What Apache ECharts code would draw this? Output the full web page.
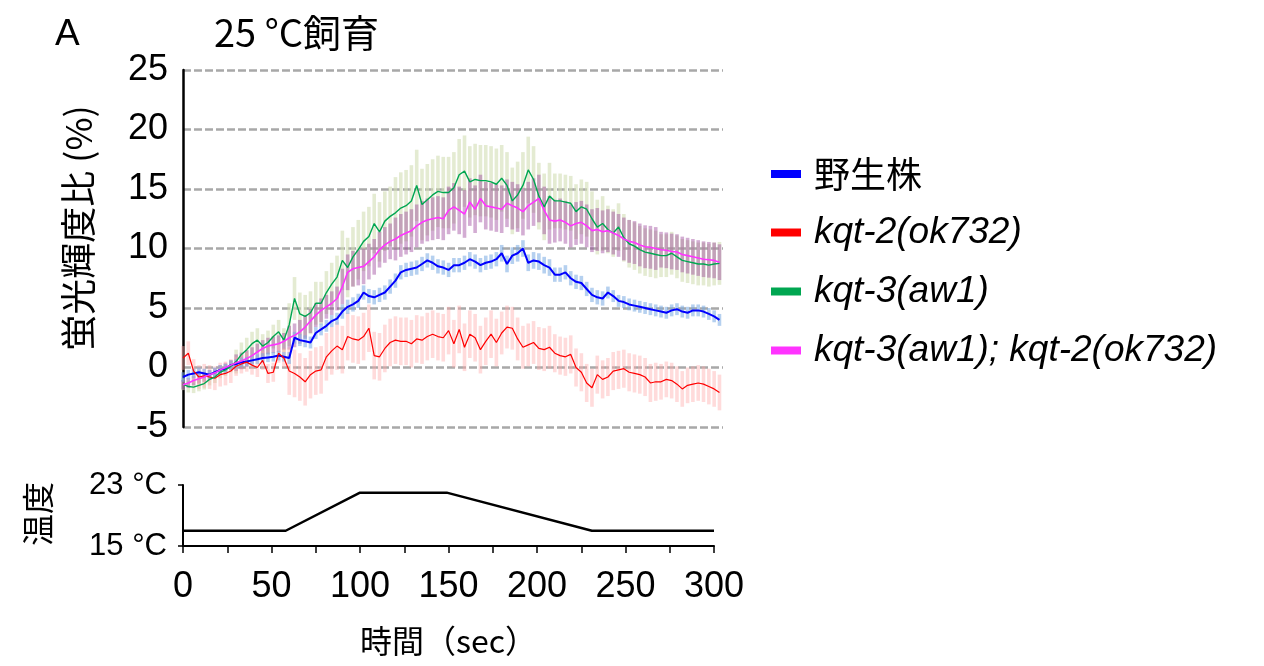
<!DOCTYPE html>
<html>
<head>
<meta charset="utf-8">
<script src="https://cdn.jsdelivr.net/npm/echarts@6/dist/echarts.min.js"></script>
<style>
  html, body { margin: 0; padding: 0; background: #fff; }
  #chart { width: 1264px; height: 666px; }
</style>
</head>
<body>
<div id="chart"></div>
<script>
const FONT = '"Liberation Sans", Arial, "Noto Sans CJK JP", sans-serif'
const CJK = '"Noto Sans CJK JP", "Liberation Sans", sans-serif'

// sampling every 3 s, 0 .. 303 s
const times = Array.from({ length: 102 }, (_, i) => i * 3)

const seriesNames = ['野生株', 'kqt-2(ok732)', 'kqt-3(aw1)', 'kqt-3(aw1); kqt-2(ok732)']

const wildType = [
  -0.8, -0.6, -0.5, -0.4, -0.5, -0.6, -0.4, -0.2, -0.1, 0.2,
  0.3, 0.45, 0.5, 0.6, 0.7, 0.8, 0.85, 0.9, 1.0, 0.9,
  0.8, 2.5, 2.3, 2.2, 2.1, 2.9, 3.2, 3.5, 3.9, 4.1,
  4.7, 5.1, 5.3, 5.6, 6.3, 6.0, 5.9, 6.1, 6.3, 6.8,
  7.3, 8.0, 8.2, 8.3, 8.4, 8.7, 9.0, 8.8, 8.5, 8.4,
  8.2, 8.6, 8.6, 8.8, 9.1, 8.9, 8.6, 8.8, 8.9, 9.1,
  9.6, 8.7, 9.4, 9.6, 10.0, 8.8, 9.0, 8.9, 8.6, 8.4,
  7.8, 7.8, 8.0, 7.5, 7.2, 7.1, 6.6, 6.1, 5.9, 5.8,
  6.3, 6.0, 5.6, 5.5, 5.3, 5.2, 5.1, 5.0, 4.9, 4.8,
  4.7, 4.6, 4.8, 4.9, 4.7, 4.6, 4.8, 4.8, 4.7, 4.5,
  4.3, 4.0
]
const kqt2 = [
  0.8, 1.2, -0.3, -0.8, -0.7, -0.8, -0.9, -0.6, -0.5, -0.3,
  0.1, 0.3, 0.45, 0.2, 0.0, 0.6, -0.5, -0.4, 1.2, 0.8,
  -0.3, -0.5, -0.8, -1.2, -0.6, -0.3, -0.2, 0.9, 1.4, 1.8,
  1.5, 2.6, 2.4, 2.3, 2.6, 3.3, 1.0, 0.9, 1.6, 2.1,
  2.3, 2.2, 2.2, 2.0, 2.4, 2.3, 2.6, 2.8, 2.6, 2.5,
  3.1, 2.0, 3.2, 1.7, 2.8, 2.5, 1.5, 2.2, 2.8, 2.1,
  2.9, 3.4, 3.3, 2.4, 1.7, 1.9, 2.1, 1.6, 1.5, 1.7,
  1.2, 1.0, 0.9, 1.1, 0.0, -0.4, -1.3, -1.7, -0.6, -1.0,
  -0.8, -0.3, -0.2, -0.1, -0.4, -0.5, -0.6, -0.8, -1.3, -1.2,
  -1.2, -1.0, -1.1, -1.4, -1.8, -1.5, -1.4, -1.3, -1.4, -1.6,
  -1.8, -2.1
]
const kqt3 = [
  -1.4, -1.6, -1.65, -1.5, -1.35, -1.0, -0.8, -0.4, -0.2, 0.1,
  0.5, 1.1, 1.5, 2.0, 2.3, 1.8, 2.1, 2.6, 3.0, 2.3,
  3.6, 5.8, 4.5, 4.3, 4.6, 5.4, 5.4, 6.3, 7.0, 7.6,
  9.0, 8.4, 9.3, 9.9, 10.6, 11.0, 12.1, 11.4, 12.3, 12.7,
  13.0, 13.4, 13.6, 14.0, 15.3, 13.7, 14.1, 14.5, 14.8, 14.7,
  14.7, 15.1, 16.2, 16.5, 15.6, 15.8, 15.7, 15.7, 15.6, 15.4,
  15.9, 15.3, 14.0, 14.5, 15.3, 16.6, 15.8, 14.4, 13.5, 14.4,
  14.0, 14.0, 13.9, 13.8, 13.1, 13.5, 13.3, 12.5, 11.8, 12.1,
  11.6, 11.3, 11.8, 10.9, 10.4, 10.2, 9.9, 9.7, 9.6, 9.5,
  9.4, 9.4, 9.6, 9.3, 9.0, 8.9, 8.8, 8.7, 8.7, 8.6,
  8.7, 8.75
]
const double = [
  -1.45, -1.3, -1.1, -0.95, -0.8, -0.6, -0.45, -0.2, 0.0, 0.2,
  0.4, 0.55, 0.75, 1.0, 1.3, 1.6, 1.8, 1.9, 2.0, 2.2,
  2.5, 2.7, 3.0, 3.4, 3.9, 4.4, 4.8, 5.1, 5.4, 5.8,
  6.8, 8.0, 8.3, 8.4, 8.5, 8.9, 9.3, 9.9, 10.3, 10.6,
  10.8, 11.1, 11.3, 11.5, 11.9, 12.2, 12.4, 12.5, 12.6, 12.5,
  13.2, 13.5, 13.2, 12.9, 13.9, 13.3, 14.2, 13.6, 13.5, 13.4,
  13.3, 13.8, 13.6, 13.4, 13.1, 13.6, 13.9, 14.2, 13.2, 12.4,
  12.3, 12.4, 12.2, 11.9, 12.1, 12.2, 11.9, 11.5, 11.6, 11.4,
  11.5, 11.3, 11.1, 10.8, 10.6, 10.5, 10.3, 10.15, 10.1, 10.0,
  9.9, 9.85, 9.75, 9.7, 9.5, 9.4, 9.3, 9.2, 9.1, 9.05,
  9.0, 8.85
]

// typical error half-width per 30 s block
const wildTypeErr = [0.4, 0.4, 0.5, 0.6, 0.6, 0.6, 0.7, 0.6, 0.5, 0.5, 0.5]
const kqt2Err = [1.0, 0.8, 2.0, 2.0, 2.0, 2.0, 1.8, 1.6, 1.6, 1.5, 1.5]
const kqt3Err = [0.5, 1.0, 1.8, 2.5, 3.0, 3.0, 2.8, 2.3, 2.0, 1.8, 1.8]
const doubleErr = [0.4, 0.7, 1.0, 1.5, 1.8, 2.0, 2.0, 1.8, 1.8, 1.5, 1.5]

const tempTimes = [0, 58, 100, 149, 231, 300]
const tempValues = [17, 17, 22, 22, 17, 17]

const lineColors = ['#0000ff', '#ff0000', '#00a651', '#ff33ff']
const errColors = [
  'rgba(120, 170, 225, 0.55)',
  'rgba(255, 170, 170, 0.42)',
  'rgba(210, 222, 180, 0.6)',
  'rgba(150, 60, 150, 0.42)'
]
const lineWidths = [2, 1.2, 1.4, 1.6]

const allValues = [wildType, kqt2, kqt3, double]
const allErrs = [wildTypeErr, kqt2Err, kqt3Err, doubleErr]

function errData(vals, errs) {
  return vals.map((v, i) => {
    const e = errs[Math.floor(i / 10)]
    return [times[i], v - e, v + e]
  })
}

function errSeries(idx) {
  const color = errColors[idx]
  return {
    type: 'custom',
    xAxisIndex: 0,
    yAxisIndex: 0,
    z: 1,
    silent: true,
    encode: { x: 0, y: [1, 2] },
    data: errData(allValues[idx], allErrs[idx]),
    renderItem: (params, api) => {
      const lo = api.coord([api.value(0), api.value(1)])
      const hi = api.coord([api.value(0), api.value(2)])
      return {
        type: 'rect',
        shape: { x: lo[0] - 1.8, y: hi[1], width: 3.6, height: lo[1] - hi[1] },
        style: { fill: color }
      }
    }
  }
}

function lineSeries(idx) {
  return {
    name: seriesNames[idx],
    type: 'line',
    xAxisIndex: 0,
    yAxisIndex: 0,
    z: 3 + idx,
    showSymbol: false,
    color: lineColors[idx],
    lineStyle: { color: lineColors[idx], width: lineWidths[idx] },
    data: allValues[idx].map((v, i) => [times[i], v])
  }
}

const chart = echarts.init(document.getElementById('chart'), null, { renderer: 'canvas' })

chart.setOption({
  animation: false,
  backgroundColor: '#fff',
  textStyle: { fontFamily: FONT, color: '#000' },
  title: [
    { text: 'A', left: 50, top: 11, textStyle: { fontSize: 37, fontWeight: 'normal', color: '#000', fontFamily: FONT } },
    { text: '25 °C飼育', left: 209, top: 9, textStyle: { fontSize: 38, fontWeight: 'normal', color: '#000', fontFamily: CJK } }
  ],
  legend: {
    orient: 'vertical',
    left: 766,
    top: 151,
    itemGap: 22,
    itemWidth: 30,
    itemHeight: 8,
    icon: 'rect',
    data: seriesNames,
    formatter: (name) => (name === '野生株' ? '{n|' + name + '}' : '{i|' + name + '}'),
    textStyle: {
      fontSize: 36,
      rich: {
        n: { fontSize: 36, fontFamily: CJK, color: '#000', padding: [0, 0, 0, 8] },
        i: { fontSize: 37, fontStyle: 'italic', fontFamily: FONT, color: '#000', padding: [0, 0, 0, 8] }
      }
    }
  },
  graphic: [
    {
      type: 'text',
      x: 78,
      y: 228,
      rotation: Math.PI / 2,
      style: { text: '蛍光輝度比 (%)', font: '36px ' + CJK, fill: '#000', align: 'center', verticalAlign: 'middle' }
    },
    {
      type: 'text',
      x: 38,
      y: 514,
      rotation: Math.PI / 2,
      style: { text: '温度', font: '32px ' + CJK, fill: '#000', align: 'center', verticalAlign: 'middle' }
    }
  ],
  grid: [
    { left: 183, right: 541, top: 70, bottom: 239, outerBoundsMode: 'none' },
    { left: 183, right: 550, top: 485, bottom: 120, outerBoundsMode: 'none' }
  ],
  xAxis: [
    { gridIndex: 0, type: 'value', min: 0, max: 305, show: false },
    {
      gridIndex: 1,
      type: 'value',
      min: 0,
      max: 300,
      interval: 25,
      axisLine: { lineStyle: { color: '#000', width: 2 } },
      axisTick: { inside: false, length: 7, lineStyle: { color: '#000', width: 1.5 } },
      axisLabel: {
        fontSize: 36,
        color: '#000',
        margin: 23,
        formatter: (v) => (v % 50 === 0 ? String(v) : '')
      },
      splitLine: { show: false },
      name: '時間（sec）',
      nameLocation: 'middle',
      nameGap: 79,
      nameTextStyle: { fontSize: 32, fontFamily: CJK, color: '#000' }
    }
  ],
  yAxis: [
    {
      gridIndex: 0,
      type: 'value',
      min: -5,
      max: 25,
      interval: 5,
      axisLine: { show: true, lineStyle: { color: '#000', width: 2.5 } },
      axisTick: { show: false },
      axisLabel: { fontSize: 36, color: '#000', margin: 15 },
      splitLine: { show: true, lineStyle: { color: '#a8a8a8', width: 2.5, type: [8, 3] } }
    },
    {
      gridIndex: 1,
      type: 'value',
      min: 15,
      max: 23,
      interval: 8,
      axisLine: { show: true, lineStyle: { color: '#000', width: 2 } },
      axisTick: { show: true, length: 5, lineStyle: { color: '#000', width: 1.5 } },
      axisLabel: { fontSize: 31, color: '#000', margin: 16, formatter: (v) => v + ' °C' },
      splitLine: { show: false }
    }
  ],
  series: [
    errSeries(2),
    errSeries(3),
    errSeries(1),
    errSeries(0),
    lineSeries(0),
    lineSeries(1),
    lineSeries(2),
    lineSeries(3),
    {
      type: 'line',
      xAxisIndex: 1,
      yAxisIndex: 1,
      showSymbol: false,
      lineStyle: { color: '#000', width: 2.5 },
      data: tempTimes.map((t, i) => [t, tempValues[i]])
    }
  ]
})
</script>
</body>
</html>
